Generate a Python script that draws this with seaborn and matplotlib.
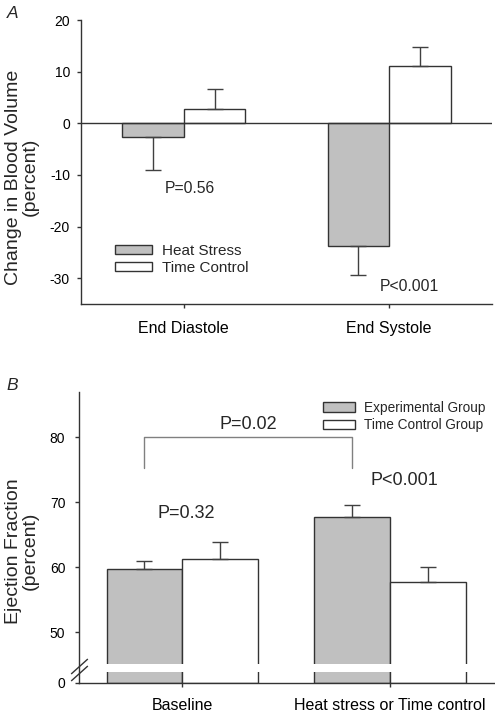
import matplotlib

matplotlib.use('Agg')
import matplotlib.pyplot as plt
import numpy as np
import pandas as pd
import seaborn as sns
from matplotlib.patches import Patch

# panel A data
phases = ['End Diastole', 'End Systole']
volume_groups = ['Heat Stress', 'Time Control']
volume_heat = [-2.6, -23.7]
volume_heat_err = [6.4, 5.6]
volume_control = [2.7, 11.1]
volume_control_err = [3.9, 3.7]
volume_pvalues = ['P=0.56', 'P<0.001']
volume_p_pos = [(0.03, -12.6), (1.10, -31.7)]

# panel B data
stages = ['Baseline', 'Heat stress or Time control']
ef_groups = ['Experimental Group', 'Time Control Group']
ef_exp = [59.8, 67.8]
ef_exp_err = [1.2, 1.8]
ef_ctrl = [61.2, 57.8]
ef_ctrl_err = [2.7, 2.2]
ef_pvalues = ['P=0.32', 'P<0.001']
ef_p_pos = [(0.02, 68.3), (1.07, 73.3)]
bracket_y = (75.2, 80.1)
bracket_label = 'P=0.02'

GRAY = '#c0c0c0'
EDGE = '#333333'
ERR = '#404040'

sns.set_style('ticks')
plt.rcParams['font.family'] = ['Liberation Sans', 'DejaVu Sans']
plt.rcParams['axes.unicode_minus'] = False
plt.rcParams['axes.edgecolor'] = EDGE
plt.rcParams['axes.linewidth'] = 1.0
plt.rcParams['xtick.color'] = EDGE
plt.rcParams['ytick.color'] = EDGE
plt.rcParams['xtick.labelcolor'] = 'black'
plt.rcParams['ytick.labelcolor'] = 'black'


def make_frame(cats, groups, first, second):
    rows = []
    for cat, a, b in zip(cats, first, second):
        rows.append({'cat': cat, 'group': groups[0], 'value': a})
        rows.append({'cat': cat, 'group': groups[1], 'value': b})
    return pd.DataFrame(rows)


def add_errors(ax, values_by_group, errors_by_group):
    for container, vals, errs in zip(ax.containers, values_by_group, errors_by_group):
        xs = [bar.get_x() + bar.get_width() / 2 for bar in container]
        lower = [e if v < 0 else 0 for v, e in zip(vals, errs)]
        upper = [0 if v < 0 else e for v, e in zip(vals, errs)]
        ax.errorbar(xs, vals, yerr=[lower, upper], fmt='none', ecolor=ERR,
                    elinewidth=1, capsize=6, capthick=1, zorder=3)


def bar_centers(ax, group_idx):
    return [bar.get_x() + bar.get_width() / 2 for bar in ax.containers[group_idx]]


fig = plt.figure(figsize=(4.95, 7.13), dpi=100)

# ---------------- panel A ----------------
ax_a = fig.add_axes([81 / 495, 1 - 304 / 713, 411 / 495, 284 / 713])
df_a = make_frame(phases, volume_groups, volume_heat, volume_control)
sns.barplot(data=df_a, x='cat', y='value', hue='group', palette=[GRAY, 'white'],
            edgecolor=EDGE, linewidth=1, width=0.6, errorbar=None, legend=False, ax=ax_a)
add_errors(ax_a, [volume_heat, volume_control], [volume_heat_err, volume_control_err])
ax_a.axhline(0, color=EDGE, lw=1, zorder=2)
ax_a.set_xlim(-0.5, 1.5)
ax_a.set_ylim(-35, 20)
ax_a.set_yticks([-30, -20, -10, 0, 10, 20])
ax_a.set_xlabel('')
ax_a.set_ylabel('Change in Blood Volume\n(percent)', fontsize=14, linespacing=1.0)
ax_a.yaxis.set_label_coords(-0.102, 0.447)
ax_a.tick_params(axis='y', labelsize=10, length=3, width=1, pad=5)
ax_a.tick_params(axis='x', labelsize=11.5, length=3, width=1, pad=9)
for s in ['top', 'right']:
    ax_a.spines[s].set_visible(False)
for txt, (x, y) in zip(volume_pvalues, volume_p_pos):
    ax_a.text(x, y, txt, ha='center', va='center', fontsize=11.3)
handles_a = [Patch(facecolor=GRAY, edgecolor=EDGE, lw=1), Patch(facecolor='white', edgecolor=EDGE, lw=1)]
ax_a.legend(handles_a, volume_groups, loc='upper left', bbox_to_anchor=(0.083, 0.213),
            frameon=False, fontsize=11, handlelength=2.42, handleheight=0.52,
            handletextpad=0.65, labelspacing=0.24, borderpad=0, borderaxespad=0)
fig.text(12.5 / 495, 1 - 13 / 713, 'A', fontsize=12.5, style='italic', ha='center', va='center')

# ---------------- panel B ----------------
BREAK = 45.0
LOW = 2.75


def forward(y):
    y = np.asarray(y, dtype=float)
    return np.where(y >= BREAK, y, BREAK - LOW + y * LOW / BREAK)


def inverse(v):
    v = np.asarray(v, dtype=float)
    return np.where(v >= BREAK, v, (v - (BREAK - LOW)) * BREAK / LOW)


ax_b = fig.add_axes([78.5 / 495, 1 - 682.7 / 713, 415.5 / 495, 291 / 713])
df_b = make_frame(stages, ef_groups, ef_exp, ef_ctrl)
sns.barplot(data=df_b, x='cat', y='value', hue='group', palette=[GRAY, 'white'],
            edgecolor=EDGE, linewidth=1, width=0.73, errorbar=None, legend=False, ax=ax_b)
add_errors(ax_b, [ef_exp, ef_ctrl], [ef_exp_err, ef_ctrl_err])
ax_b.set_yscale('function', functions=(forward, inverse))
ax_b.set_xlim(-0.5, 1.5)
ax_b.set_ylim(0, 87)
ax_b.set_yticks([0, 50, 60, 70, 80])
ax_b.set_yticklabels(['0', '50', '60', '70', '80'])
ax_b.minorticks_off()
# white gap across the bars at the axis break
ax_b.axhspan(float(inverse(43.85)), 45.12, color='white', zorder=1.5, lw=0)
ax_b.set_xlabel('')
ax_b.set_ylabel('Ejection Fraction\n(percent)', fontsize=14, linespacing=1.0)
ax_b.yaxis.set_label_coords(-0.095, 0.453)
ax_b.tick_params(axis='y', labelsize=10, length=3, width=1, pad=6.5)
ax_b.tick_params(axis='x', labelsize=11.5, length=3, width=1, pad=8)
for s in ['top', 'right']:
    ax_b.spines[s].set_visible(False)
for y in [0.056, 0.034]:
    ax_b.plot([0], [y], transform=ax_b.transAxes, marker=[(-1, -0.9), (1, 0.9)],
              markersize=12, ls='none', mec=EDGE, mew=1, clip_on=False, zorder=4)
for txt, (x, y) in zip(ef_pvalues, ef_p_pos):
    ax_b.text(x, y, txt, ha='center', va='center', fontsize=13)
bx0 = bar_centers(ax_b, 0)[0]
bx1 = bar_centers(ax_b, 0)[1]
ax_b.plot([bx0, bx0, bx1, bx1], [bracket_y[0], bracket_y[1], bracket_y[1], bracket_y[0]],
          color='#808080', lw=1)
ax_b.text((bx0 + bx1) / 2, 82.0, bracket_label, ha='center', va='center', fontsize=13)
handles_b = [Patch(facecolor=GRAY, edgecolor=EDGE, lw=1), Patch(facecolor='white', edgecolor=EDGE, lw=1)]
ax_b.legend(handles_b, ef_groups, loc='upper left', bbox_to_anchor=(0.588, 0.969),
            frameon=False, fontsize=9.8, handlelength=2.35, handleheight=0.66,
            handletextpad=0.66, labelspacing=0.235, borderpad=0, borderaxespad=0)
fig.text(12 / 495, 1 - 385 / 713, 'B', fontsize=12.5, style='italic', ha='center', va='center')

fig.savefig('out.png', dpi=100)
plt.close(fig)
